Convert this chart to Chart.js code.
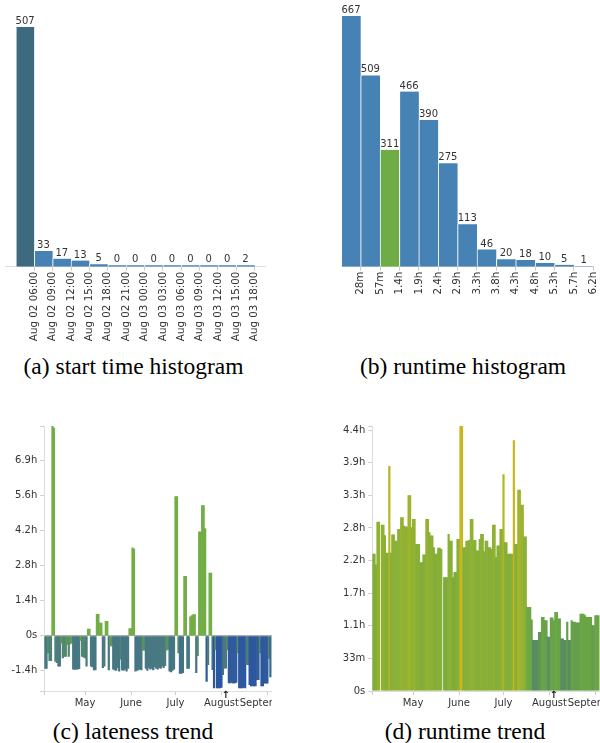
<!DOCTYPE html>
<html><head><meta charset="utf-8">
<script src="https://cdn.jsdelivr.net/npm/chart.js@4/dist/chart.umd.min.js"></script>
<style>
html,body{margin:0;padding:0;background:#fff;width:600px;height:743px;overflow:hidden;position:relative}
canvas{position:absolute}
.cap{position:absolute;font-family:"Liberation Serif","Times New Roman",serif;font-size:23.5px;line-height:26px;color:#000;text-align:center;white-space:nowrap}
</style></head><body>
<canvas id="ca" width="272" height="342" style="left:0;top:0"></canvas>
<canvas id="cb" width="272" height="342" style="left:328px;top:0"></canvas>
<canvas id="cc" width="272" height="300" style="left:0;top:410px"></canvas>
<canvas id="cd" width="272" height="300" style="left:328px;top:410px"></canvas>
<div class="cap" style="left:0;width:267px;top:353px">(a) start time histogram</div>
<div class="cap" style="left:328px;width:270px;top:353px">(b) runtime histogram</div>
<div class="cap" style="left:0;width:266px;top:718px">(c) lateness trend</div>
<div class="cap" style="left:330px;width:270px;top:718px">(d) runtime trend</div>
<script>
// ---- data ----
const startBins = ['Aug 02 06:00','Aug 02 09:00','Aug 02 12:00','Aug 02 15:00','Aug 02 18:00','Aug 02 21:00','Aug 03 00:00','Aug 03 03:00','Aug 03 06:00','Aug 03 09:00','Aug 03 12:00','Aug 03 15:00','Aug 03 18:00'];
const startCounts = [507,33,17,13,5,0,0,0,0,0,0,0,2];
const runtimeBins = ['28m','57m','1.4h','1.9h','2.4h','2.9h','3.3h','3.8h','4.3h','4.8h','5.3h','5.7h','6.2h'];
const runtimeCounts = [667,509,311,466,390,275,113,46,20,18,10,5,1];

const monthTickDays = [30,61,91,122,153];           // days since Apr 1
const monthLabels = ['May','June','July','August','September'];
const trendStartDay = 3;
const markerDay = 124.8;

// lateness in seconds, one per day from trendStartDay
const latenessValues = [
-4700,-4700,-2500,-3600,-3600,29850,29600,-3700,-3900,-4400,
-4400,-1100,-3200,-3000,-3000,-1300,-3000,-1200,-1100,-4800,
-4850,-4800,-4800,-4750,-700,-3000,-3100,-3200,-4400,1000,
1000,-4400,-4500,-4900,-4900,3100,3100,1850,1850,-4600,
-4400,2100,2100,-4900,-1500,-1500,-4800,-4900,-5000,-4600,
-5100,-3400,-4900,-5000,-4800,-5100,-4700,1050,1050,12570,
12400,-5100,-5000,-4900,-4800,-4900,-2100,-2100,-4700,-5000,
-4600,-4800,-4700,-4900,-4500,-4700,-4800,-4600,-4700,-4400,
-4600,-4300,-2100,-2000,-5100,-5200,-5000,-4800,19850,19850,
-2500,-5400,-5400,-5300,8500,8500,-4700,-4700,2750,2900,
3050,3050,-5300,-2900,14850,14850,18560,18560,15280,-6540,
-4170,8960,8960,-4880,-7490,-2040,-7490,-7490,-7490,-7400,
-5590,-4650,-4650,-2040,-6780,-6780,-6700,-6800,-6780,-6700,
-2500,-7490,-7490,-7490,-7400,-7490,-4170,-4170,-7000,-7200,
-7200,-7200,-7200,-6300,-6300,-2500,-7200,-7200,-6800,-6800,
-6800,-3300,-5900];
const latenessTickValues = [-5000,0,5000,10000,15000,20000,25000];
const latenessTickLabels = ['-1.4h','0s','1.4h','2.8h','4.2h','5.6h','6.9h'];

// runtime in seconds, one per day from trendStartDay
const runtimeValues = [
8410,8410,7760,10380,10380,null,10200,10200,9550,8470,
8470,13800,8470,9590,9590,9220,9220,9930,9930,10650,
10650,10140,10080,10080,12010,12010,10040,10550,10550,9020,
9020,9020,7900,7900,8370,8370,10550,10550,9730,9530,
9530,8820,8410,8410,8780,8780,8710,null,6980,6980,
6980,9630,9220,9220,6980,7290,7290,9320,9320,16250,
16250,8820,8820,9220,9220,9260,10550,10550,9260,9260,
8610,8610,9320,9630,9630,8570,9220,9220,8820,8820,
8710,10200,10200,8200,8920,8920,9930,9930,13290,9120,
9120,8410,8410,8410,8410,15370,9020,9020,12340,12340,
11420,11420,9470,9470,5150,5150,5150,4380,3120,3120,
3120,3120,3620,3620,4540,4540,4340,4340,3320,3320,
4500,4500,4340,4850,4850,4440,4440,3220,3220,3120,
3120,4240,3120,3120,4340,4240,4240,4200,4200,4200,
4740,4740,4740,4640,4540,4540,4540,4540,4030,4030,
4640,4640,4640];
const runtimeTickValues = [0,2000,4000,6000,8000,10000,12000,14000,16000];
const runtimeTickLabels = ['0s','33m','1.1h','1.7h','2.2h','2.8h','3.3h','3.9h','4.4h'];

// ---- helpers ----
const FONT = 'DejaVu Sans';
const TXT = '#333';
function lerpColor(stops, v){
  if (v <= stops[0][0]) return 'rgb('+stops[0][1].join(',')+')';
  for (let i=1;i<stops.length;i++){
    if (v <= stops[i][0]){
      const a=stops[i-1], b=stops[i], t=(v-a[0])/(b[0]-a[0]);
      const c=a[1].map((x,k)=>Math.round(x+(b[1][k]-x)*t));
      return 'rgb('+c.join(',')+')';
    }
  }
  return 'rgb('+stops[stops.length-1][1].join(',')+')';
}
const lateStops = [[-7500,[44,86,160]],[-6400,[48,92,156]],[-5600,[66,112,136]],[-4400,[74,123,128]],[-3000,[82,136,110]],[-1500,[94,152,88]],[0,[104,166,74]]];
function lateColor(v){ return v>=0 ? '#72ad46' : lerpColor(lateStops, v); }
const runStops = [[3000,[88,138,98]],[4600,[106,166,70]],[7000,[126,172,60]],[9500,[138,176,54]],[12000,[160,180,46]],[15000,[198,184,30]]];
function runColor(v){ return lerpColor(runStops, v); }

const valueLabels = {
  id:'valueLabels',
  afterDatasetsDraw(chart, args, opts){
    if (!opts || !opts.show) return;
    const ctx = chart.ctx, meta = chart.getDatasetMeta(0), ds = chart.data.datasets[0].data;
    ctx.save();
    ctx.font = '10px "'+FONT+'"'; ctx.fillStyle = TXT; ctx.textAlign='center'; ctx.textBaseline='bottom';
    meta.data.forEach((el,i)=>{ ctx.fillText(String(ds[i].y), el.x, el.y - 0.5); });
    ctx.restore();
  }
};
const marker = {
  id:'marker',
  afterDraw(chart, args, opts){
    if (!opts || opts.day == null) return;
    const ctx = chart.ctx, x = chart.scales.x.getPixelForValue(opts.day);
    ctx.save();
    ctx.font = 'bold 10px "'+FONT+'"'; ctx.fillStyle = '#222'; ctx.textAlign='center'; ctx.textBaseline='top';
    ctx.fillText('\u2191', x, chart.chartArea.bottom - 1);
    ctx.restore();
  }
};

function histChart(id, bins, counts, colorFn, xmin, xmax, pad, minLen){
  const n = bins.length;
  new Chart(document.getElementById(id), {
    type:'bar',
    data:{ datasets:[{
      data: counts.map((v,i)=>({x:i+0.5, y:v})),
      backgroundColor: c => colorFn(c.dataIndex),
      borderColor:'rgba(255,255,255,0.85)', borderWidth:{left:1,right:0,top:0,bottom:0}, borderSkipped:false,
      barPercentage:1, categoryPercentage:1, minBarLength:minLen
    }]},
    options:{
      responsive:false, animation:false, events:[],
      layout:{padding:pad},
      plugins:{legend:{display:false}, tooltip:{enabled:false}, valueLabels:{show:true}},
      scales:{
        x:{ type:'linear', min:xmin, max:xmax, offset:false,
          afterBuildTicks: s => { const t=[]; for(let i=1;i<=n;i++) t.push({value:i}); s.ticks=t; },
          afterFit: s => { s.height = 75.3; s.paddingLeft=0; s.paddingRight=0; },
          ticks:{ autoSkip:false, maxRotation:90, minRotation:90, padding:1, color:TXT, font:{family:FONT,size:10.3},
            callback: v => (Number.isInteger(v) && v>=1 && v<=n) ? bins[v-1] : '' },
          grid:{ display:true, drawOnChartArea:false, drawTicks:true, tickLength:4, tickColor:'#ccc', offset:false },
          border:{ display:true, color:'#ddd' } },
        y:{ display:false, min:0, max:Math.max(...counts) }
      }
    },
    plugins:[valueLabels]
  });
}

histChart('ca', startBins, startCounts, i => i===0 ? '#3e6a80' : '#4682b4', -0.555, 13.56, {left:5.7,right:7,top:26.7,bottom:0}, 1.5);
histChart('cb', runtimeBins, runtimeCounts, i => i===2 ? '#6fac46' : '#4682b4', 0, 13, {left:13.3,right:6.7,top:16,bottom:0}, 0);

function trendChart(id, values, colorFn, ymin, ymax, tickVals, tickLabels, zeroLine){
  new Chart(document.getElementById(id), {
    type:'bar',
    data:{ datasets:[{
      data: values.map((v,i)=>({x:trendStartDay+i, y:v})),
      backgroundColor: c => colorFn(c.raw && c.raw.y != null ? c.raw.y : 0),
      borderWidth:0, barPercentage:1.5, categoryPercentage:1
    }]},
    options:{
      responsive:false, animation:false, events:[],
      layout:{padding:{left:0,right:0,top:16,bottom:0}},
      plugins:{legend:{display:false}, tooltip:{enabled:false}, marker:{day:markerDay}},
      scales:{
        x:{ type:'linear', min:2.5, max:156.1, offset:false,
          afterBuildTicks: s => { s.ticks = [2.5, ...monthTickDays, 156.1].map(v=>({value:v})); },
          afterFit: s => { s.height = 19; s.paddingLeft=0; s.paddingRight=0; },
          ticks:{ autoSkip:false, maxRotation:0, minRotation:0, padding:2, color:TXT, font:{family:FONT,size:10},
            callback: v => { const i = monthTickDays.indexOf(v); return i>=0 ? monthLabels[i] : ''; } },
          grid:{ display:true, drawOnChartArea:false, drawTicks:true, tickLength:4, tickColor:'#ccc', offset:false },
          border:{ display:true, color:'#ddd' } },
        y:{ type:'linear', min:ymin, max:ymax,
          afterBuildTicks: s => { s.ticks = Array.from(new Set([ymin, ...tickVals, ymax])).map(v=>({value:v})); },
          afterFit: s => { s.width = 44.3; s.paddingTop=0; s.paddingBottom=0; },
          ticks:{ autoSkip:false, padding:3, color:TXT, font:{family:FONT,size:10},
            callback: v => { const i = tickVals.indexOf(v); return i>=0 ? tickLabels[i] : ''; } },
          grid:{ display:true, drawOnChartArea:zeroLine, drawTicks:true, tickLength:4, tickColor:'#ccc',
            color: c => (c.tick && c.tick.value === 0) ? '#aaa' : 'rgba(0,0,0,0)' },
          border:{ display:true, color:'#ddd' } }
      }
    },
    plugins:[marker]
  });
}

trendChart('cc', latenessValues, lateColor, -7870, 29850, latenessTickValues, latenessTickLabels, true);
trendChart('cd', runtimeValues, runColor, 0, 16250, runtimeTickValues, runtimeTickLabels, false);
</script>
</body></html>
